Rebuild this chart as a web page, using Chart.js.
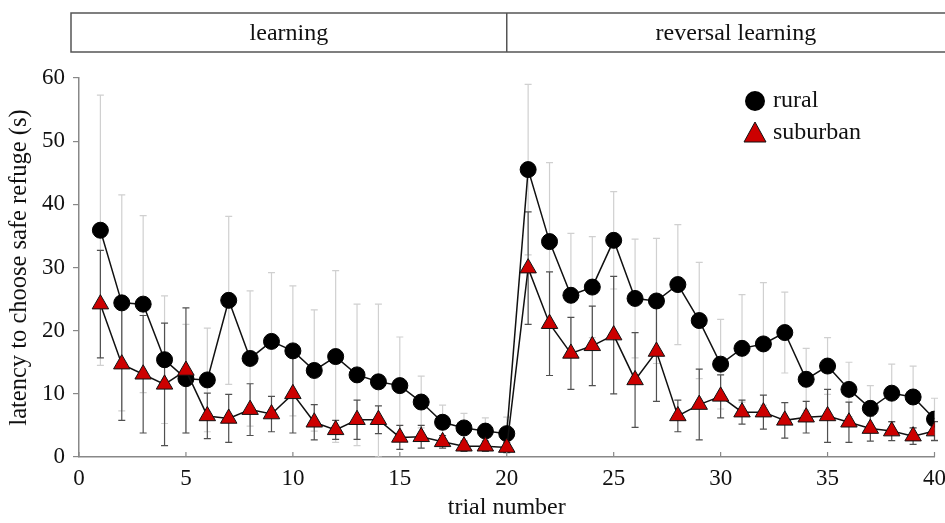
<!DOCTYPE html>
<html>
<head>
<meta charset="utf-8">
<script src="https://cdn.jsdelivr.net/npm/chart.js@4.4.0/dist/chart.umd.min.js"></script>
<style>
html, body { margin: 0; padding: 0; background: #fff; }
</style>
</head>
<body>
<canvas id="myChart" width="945" height="523"></canvas>
<script>
// trial numbers 1..40, first 20 = learning, last 20 = reversal learning
var trials = [1,2,3,4,5,6,7,8,9,10,11,12,13,14,15,16,17,18,19,20,
              21,22,23,24,25,26,27,28,29,30,31,32,33,34,35,36,37,38,39,40];
var rural = [35.9, 24.4, 24.2, 15.4, 12.4, 12.2, 24.8, 15.6, 18.3, 16.8,
             13.7, 15.9, 13.0, 11.9, 11.3, 8.7, 5.5, 4.6, 4.1, 3.7,
             45.5, 34.1, 25.6, 26.9, 34.3, 25.1, 24.7, 27.3, 21.6, 14.7,
             17.2, 17.9, 19.7, 12.3, 14.4, 10.7, 7.7, 10.1, 9.5, 6.0];
var ruralErr = [21.4, 17.1, 14.0, 10.1, 8.6, 8.2, 13.3, 10.7, 10.9, 10.3,
                9.6, 13.6, 11.2, 12.3, 7.7, 4.1, 2.7, 2.3, 2.1, 2.6,
                13.5, 12.5, 9.8, 8.0, 7.7, 9.4, 9.9, 9.5, 9.2, 7.1,
                8.5, 9.7, 6.4, 4.9, 4.5, 4.3, 3.6, 4.6, 4.9, 3.3];
var suburban = [24.2, 14.7, 13.1, 11.5, 13.7, 6.5, 6.1, 7.5, 6.8, 10.0,
                5.5, 4.3, 5.9, 5.9, 3.1, 3.2, 2.4, 1.7, 1.7, 1.5,
                29.9, 21.1, 16.4, 17.6, 19.3, 12.2, 16.7, 6.5, 8.3, 9.6,
                7.1, 7.1, 5.8, 6.3, 6.5, 5.5, 4.5, 4.1, 3.3, 4.1];
var suburbanErr = [8.5, 8.9, 9.3, 9.7, 9.9, 3.6, 3.8, 4.1, 2.8, 6.2,
                   2.8, 1.5, 3.1, 2.2, 1.9, 1.8, 1.0, 0.8, 0.8, 0.8,
                   8.9, 8.2, 5.7, 6.3, 9.3, 7.5, 7.9, 2.5, 5.6, 3.4,
                   1.9, 2.7, 2.8, 2.5, 4.2, 3.2, 2.0, 1.5, 1.3, 1.5];
var phases = ['learning', 'reversal learning'];
var phaseSplit = 20;
var seriesNames = ['rural', 'suburban'];

var serif = "'Liberation Serif', 'Times New Roman', serif";

function pts(vals) {
    var out = [];
    for (var i in vals) {
        out.push({x: trials[i], y: vals[i]});
    }
    return out;
}

// error bars drawn under the lines
var errorBars = {
    id: 'errorBars',
    beforeDatasetsDraw: function(chart) {
        var ctx = chart.ctx;
        var xs = chart.scales.x, ys = chart.scales.y;
        var sets = [[rural, ruralErr, '#d0d0d0'], [suburban, suburbanErr, '#505050']];
        ctx.save();
        ctx.lineWidth = 1.2;
        sets.forEach(function(s) {
            ctx.strokeStyle = s[2];
            for (var i = 0; i < trials.length; i++) {
                var x = xs.getPixelForValue(trials[i]);
                var y1 = ys.getPixelForValue(s[0][i] + s[1][i]);
                var y2 = ys.getPixelForValue(Math.max(0, s[0][i] - s[1][i]));
                ctx.beginPath();
                ctx.moveTo(x, y1); ctx.lineTo(x, y2);
                ctx.moveTo(x - 3.5, y1); ctx.lineTo(x + 3.5, y1);
                ctx.moveTo(x - 3.5, y2); ctx.lineTo(x + 3.5, y2);
                ctx.stroke();
            }
        });
        ctx.restore();
    }
};

// header boxes, inward x ticks, legend
var extras = {
    id: 'extras',
    afterDraw: function(chart) {
        var ctx = chart.ctx;
        var xs = chart.scales.x, ys = chart.scales.y;
        ctx.save();
        // inward x tick marks
        ctx.strokeStyle = '#888';
        ctx.lineWidth = 1.2;
        xs.ticks.forEach(function(t) {
            var x = xs.getPixelForValue(t.value);
            ctx.beginPath();
            ctx.moveTo(x, ys.bottom);
            ctx.lineTo(x, ys.bottom - 5);
            ctx.stroke();
        });
        // phase header
        var left = 71, right = 965, top = 13, bot = 52;
        var mid = xs.getPixelForValue(phaseSplit);
        ctx.strokeStyle = '#555';
        ctx.lineWidth = 1.5;
        ctx.strokeRect(left, top, right - left, bot - top);
        ctx.beginPath();
        ctx.moveTo(mid, top); ctx.lineTo(mid, bot);
        ctx.stroke();
        ctx.fillStyle = '#111';
        ctx.font = '24px ' + serif;
        ctx.textAlign = 'center';
        ctx.textBaseline = 'middle';
        ctx.fillText(phases[0], (left + mid) / 2, (top + bot) / 2 + 1);
        ctx.fillText(phases[1], (mid + right) / 2, (top + bot) / 2 + 1);
        // legend
        var lx = 755;
        ctx.fillStyle = '#000';
        ctx.beginPath();
        ctx.arc(lx, 101, 10, 0, Math.PI * 2);
        ctx.fill();
        ctx.fillStyle = '#cc0000';
        ctx.strokeStyle = '#111';
        ctx.lineWidth = 1;
        ctx.beginPath();
        ctx.moveTo(lx, 122); ctx.lineTo(lx + 11, 142); ctx.lineTo(lx - 11, 142);
        ctx.closePath();
        ctx.fill(); ctx.stroke();
        ctx.fillStyle = '#111';
        ctx.textAlign = 'left';
        ctx.fillText(seriesNames[0], 773, 101);
        ctx.fillText(seriesNames[1], 773, 133);
        ctx.restore();
    }
};

var ctx = document.getElementById('myChart');
var chart = new Chart(ctx, {
    type: 'line',
    data: {
        datasets: [{
            label: seriesNames[0],
            data: pts(rural),
            order: 2,
            borderColor: '#111',
            borderWidth: 1.5,
            pointStyle: 'circle',
            pointRadius: 8,
            pointBackgroundColor: '#000',
            pointBorderColor: '#000',
            pointBorderWidth: 1
        }, {
            label: seriesNames[1],
            data: pts(suburban),
            order: 1,
            borderColor: '#111',
            borderWidth: 1.5,
            pointStyle: 'triangle',
            pointRadius: 9.5,
            pointBackgroundColor: '#cc0000',
            pointBorderColor: '#111',
            pointBorderWidth: 1
        }]
    },
    options: {
        responsive: false,
        animation: false,
        devicePixelRatio: 1,
        layout: { padding: { top: 78, right: 9, left: 0, bottom: 0 } },
        plugins: {
            legend: { display: false },
            tooltip: { enabled: false }
        },
        scales: {
            x: {
                type: 'linear',
                min: 0,
                max: 40,
                ticks: { stepSize: 5, padding: 8, color: '#111', font: { family: serif, size: 23 } },
                grid: { display: false, drawTicks: false },
                border: { display: true, color: '#888', width: 1.5 },
                title: { display: true, text: 'trial number', color: '#111',
                         font: { family: serif, size: 24 }, padding: { top: 0, bottom: 1 } },
                afterFit: function(s) { s.height = 66; s.paddingLeft = 0; s.paddingRight = 0; }
            },
            y: {
                min: 0,
                max: 60,
                ticks: { stepSize: 10, padding: 8, color: '#111', font: { family: serif, size: 23 } },
                grid: { display: true, drawOnChartArea: false, drawTicks: true, tickLength: 6, color: '#888', lineWidth: 1.2 },
                border: { display: true, color: '#888', width: 1.5 },
                title: { display: true, text: 'latency to choose safe refuge (s)', color: '#111',
                         font: { family: serif, size: 24.5 }, padding: { top: 5, bottom: 0 } },
                afterFit: function(s) { s.width = 79; }
            }
        }
    },
    plugins: [errorBars, extras]
});
</script>
</body>
</html>
